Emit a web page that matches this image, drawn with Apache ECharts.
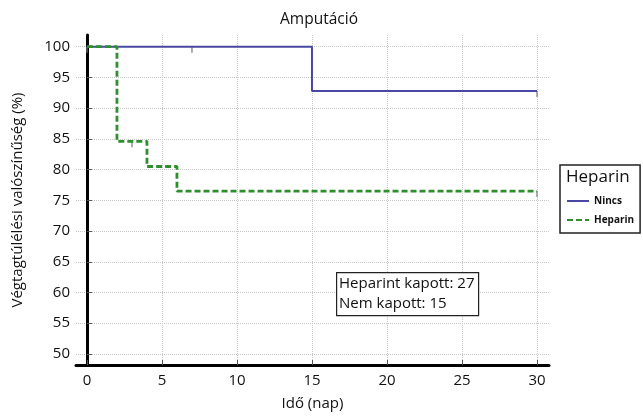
<!DOCTYPE html>
<html>
<head>
<meta charset="utf-8">
<script src="https://cdn.jsdelivr.net/npm/echarts@6/dist/echarts.min.js"></script>
<style>
  html, body { margin: 0; padding: 0; background: #fff; }
  #main { width: 643px; height: 416px; }
</style>
</head>
<body>
<div id="main"></div>
<script>
// Kaplan-Meier lépcsők (nap, túlélés %)
const ninesDays = [0, 15, 30];
const ninesSurv = [100, 92.8, 92.8];
const heparinDays = [0, 2, 4, 6, 30];
const heparinSurv = [100, 84.6, 80.5, 76.5, 76.5];
// cenzorált esetek
const ninesCensorDays = [7, 30];
const ninesCensorSurv = [100, 92.8];
const heparinCensorDays = [0, 3, 30];
const heparinCensorSurv = [100, 84.6, 76.5];

const xTicks = [0, 5, 10, 15, 20, 25, 30];
const yTicks = [50, 55, 60, 65, 70, 75, 80, 85, 90, 95, 100];

const blue = "#4848a4";
const green = "#2f8f2f";
const font = "Open Sans";

const zip = (a, b) => a.map((v, i) => [v, b[i]]);

let myChart = echarts.init(document.getElementById("main"));

let option = {
  animation: false,
  textStyle: { fontFamily: font },
  title: {
    text: "Amputáció",
    left: 314,
    textAlign: "center",
    top: 7,
    textStyle: { fontFamily: font, fontSize: 15.5, fontWeight: "normal", color: "#111" },
  },
  grid: { left: 76, right: 94, top: 35, bottom: 49 },
  legend: {
    data: ["Nincs", "Heparin"],
    orient: "vertical",
    left: 560,
    top: 165,
    padding: [31, 6, 8, 6],
    borderColor: "#222",
    borderWidth: 1.5,
    itemWidth: 22,
    itemHeight: 8,
    itemGap: 9,
    itemStyle: { opacity: 0 },
    textStyle: { fontFamily: font, fontSize: 10, fontWeight: "bold", color: "#111" },
  },
  graphic: [
    {
      type: "text",
      left: 566,
      top: 169,
      style: { text: "Heparin", fontFamily: font, fontSize: 17, fill: "#111" },
    },
    {
      type: "rect",
      left: 336,
      top: 272,
      shape: { width: 142, height: 43 },
      style: { fill: "#fff", stroke: "#222", lineWidth: 1.2 },
      z: 10,
    },
    {
      type: "text",
      left: 339,
      top: 274,
      z: 11,
      style: {
        text: "Heparint kapott: 27\nNem kapott: 15",
        fontFamily: font,
        fontSize: 15,
        lineHeight: 20,
        fill: "#111",
      },
    },
  ],
  xAxis: {
    type: "value",
    min: -0.73,
    max: 30.8,
    name: "Idő (nap)",
    nameLocation: "middle",
    nameGap: 31,
    nameTextStyle: { fontFamily: font, fontSize: 15, color: "#111" },
    axisLine: { show: true, lineStyle: { color: "#000", width: 3 } },
    axisTick: { show: true, inside: true, length: 5, customValues: xTicks, lineStyle: { color: "#555" } },
    axisLabel: { customValues: xTicks, fontFamily: font, fontSize: 15, color: "#111", margin: 8 },
    splitLine: { show: true, lineStyle: { color: "#c8c8c8", type: "dotted", width: 1 } },
  },
  yAxis: {
    type: "value",
    min: 48.2,
    max: 101.9,
    name: "Végtagtúlélési valószínűség (%)",
    nameLocation: "middle",
    nameGap: 51,
    nameTextStyle: { fontFamily: font, fontSize: 15, color: "#111" },
    axisLine: { show: true, lineStyle: { color: "#000", width: 3 } },
    axisTick: { show: true, inside: true, length: 5, customValues: yTicks, lineStyle: { color: "#555" } },
    axisLabel: { customValues: yTicks, fontFamily: font, fontSize: 15, color: "#111", margin: 6 },
    splitLine: { show: true, lineStyle: { color: "#c8c8c8", type: "dotted", width: 1 } },
  },
  series: [
    {
      name: "Nincs",
      type: "line",
      step: "end",
      symbol: "none",
      color: blue,
      lineStyle: { color: blue, width: 2 },
      data: zip(ninesDays, ninesSurv),
      z: 3,
    },
    {
      name: "Heparin",
      type: "line",
      step: "end",
      symbol: "none",
      color: green,
      lineStyle: { color: green, width: 2.8, type: [6, 3] },
      data: zip(heparinDays, heparinSurv),
      z: 4,
    },
    {
      name: "Nincs cenzor",
      type: "scatter",
      symbol: "rect",
      symbolSize: [1.5, 6],
      symbolOffset: [0, 3],
      itemStyle: { color: "#777" },
      data: zip(ninesCensorDays, ninesCensorSurv),
      z: 2,
    },
    {
      name: "Heparin cenzor",
      type: "scatter",
      symbol: "rect",
      symbolSize: [1.5, 6],
      symbolOffset: [0, 3],
      itemStyle: { color: "#777" },
      data: zip(heparinCensorDays, heparinCensorSurv),
      z: 2,
    },
  ],
};
myChart.setOption(option);
</script>
</body>
</html>
